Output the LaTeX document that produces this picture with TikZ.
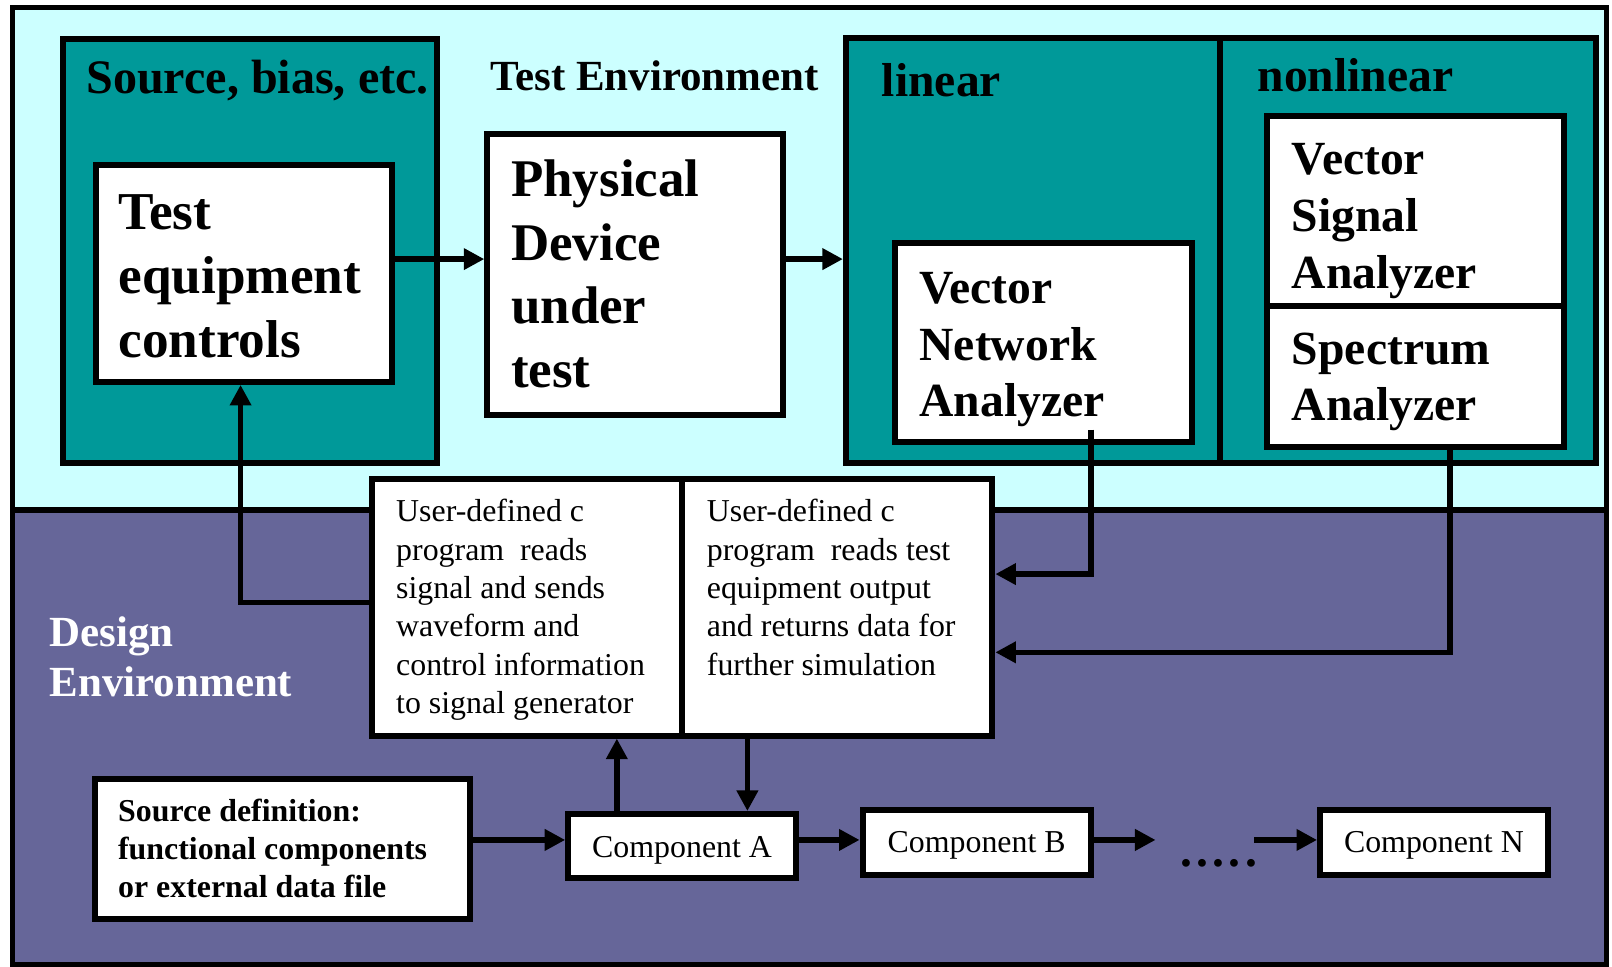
\documentclass[tikz,border=0pt]{standalone}
\usepackage{fontspec}
\setmainfont{Liberation Serif}
\usetikzlibrary{arrows.meta,calc}
\definecolor{cyanbg}{HTML}{CCFFFF}
\definecolor{tealbg}{HTML}{009999}
\definecolor{purplebg}{HTML}{666699}
\newcommand{\txtlines}[1]{\begin{tabular}[t]{@{}l@{}}#1\end{tabular}}
\begin{document}
\begin{tikzpicture}[x=1pt,y=-1pt,
  every node/.style={inner sep=0pt},
  frame/.style={draw=black, line width=5.8pt, rectangle},
  wbox/.style={frame, fill=white},
  tbox/.style={frame, fill=tealbg},
  arr/.style={draw=black, line width=5.4pt, -{Triangle[length=20pt,width=20pt]}},
  bigb/.style={font=\fontsize{51.5}{61.9}\selectfont\bfseries, anchor=base west},
  midb/.style={font=\fontsize{46.3}{55.2}\selectfont\bfseries, anchor=base west},
  labb/.style={font=\fontsize{41.8}{48.6}\selectfont\bfseries, anchor=base west},
  smallr/.style={font=\fontsize{31}{37.3}\selectfont, anchor=base west},
  smallb/.style={font=\fontsize{31}{36.8}\selectfont\bfseries, anchor=base west},
  comp/.style={wbox, font=\fontsize{31}{37}\selectfont, text height=21pt, text depth=0pt}]
\useasboundingbox (0,0) rectangle (1568,940.6);
% backgrounds
\fill[white] (0,0) rectangle (1568,940.6);
\fill[cyanbg] (12,7) rectangle (1563,496);
\fill[purplebg] (12,496) rectangle (1563,938);
\draw[line width=6pt] (12,496) -- (1563,496);
\draw[line width=5pt] (12,7) rectangle (1563,938);
% teal containers
\node[tbox, minimum width=364pt, minimum height=412.5pt] (src) at (243,243.75) {};
\node[tbox, minimum width=364.2pt, minimum height=412.7pt] (lin) at (1004.9,243.65) {};
\node[tbox, minimum width=365pt, minimum height=412.7pt] (nonlin) at (1369.5,243.65) {};
% white boxes
\node[wbox, minimum width=288pt, minimum height=211pt] (TEC) at (237,266) {};
\node[wbox, minimum width=288pt, minimum height=274pt] (PDUT) at (618,267) {};
\node[wbox, minimum width=289pt, minimum height=193.3pt] (VNA) at (1015.1,333.35) {};
\node[wbox, minimum width=288.5pt, minimum height=184.9pt] (VSA) at (1376.75,204.95) {};
\node[wbox, minimum width=288.5pt, minimum height=137.4pt] (SA) at (1376.75,366.1) {};
\node[wbox, minimum width=301.6pt, minimum height=249.5pt] (UL) at (513,590.75) {};
\node[wbox, minimum width=301.5pt, minimum height=249.5pt] (UR) at (814.55,590.75) {};
\node[wbox, minimum width=364.5pt, minimum height=136.2pt] (SD) at (275.05,825.7) {};
\node[comp, minimum width=221.5pt, minimum height=62.6pt] (CA) at (663.45,823.1) {Component A};
\node[comp, minimum width=222pt, minimum height=63.1pt] (CB) at (950,819.15) {Component B};
\node[comp, minimum width=221.5pt, minimum height=63.1pt] (CN) at (1394.75,819.15) {Component N};
% texts
\node[midb, font=\fontsize{46.8}{55.2}\selectfont\bfseries] (tsrc) at (83.7,90.8) {Source, bias, etc.};
\node[labb] (ttest) at (477,88) {Test Environment};
\node[midb] (tlin) at (857.7,94) {linear};
\node[midb] (tnonlin) at (1223,89.2) {nonlinear};
\node[bigb, font=\fontsize{51.8}{61.8}\selectfont\bfseries] (tTEC) at (115,223.7) {\txtlines{Test\\equipment\\controls}};
\node[bigb] (tPDUT) at (497,191.3) {\txtlines{Physical\\Device\\under\\test}};
\node[midb] (tVNA) at (894.3,295) {\txtlines{Vector\\Network\\Analyzer}};
\node[midb] (tVSA) at (1256.5,170.2) {\txtlines{Vector\\Signal\\Analyzer}};
\node[midb, font=\fontsize{46.3}{54.2}\selectfont\bfseries] (tSA) at (1256.5,355) {\txtlines{Spectrum\\Analyzer}};
\node[labb, text=white] (tdesign) at (48,628.4) {\txtlines{Design\\Environment}};
\node[smallr] (tUL) at (385.2,507.5) {\txtlines{User-defined c\\program~~reads\\signal and sends\\waveform and\\control information\\to signal generator}};
\node[smallr] (tUR) at (687.4,507.5) {\txtlines{User-defined c\\program~~reads test\\equipment output\\and returns data for\\further simulation}};
\node[smallb] (tSD) at (114.7,799.3) {\txtlines{Source definition:\\functional components\\or external data file}};
% connectors
\coordinate (yA) at (0,252);
\draw[arr] (TEC.east |- yA) -- (PDUT.west |- yA);
\draw[arr] (PDUT.east |- yA) -- (lin.west |- yA);
\coordinate (cL) at (234,586);
\draw[arr] (UL.west |- cL) -- (cL) -- (cL |- TEC.south);
\coordinate (vS) at (1061,418);
\coordinate (cV) at (1061,558.4);
\draw[arr] (vS) -- (cV) -- (UR.east |- cV);
\coordinate (cS) at (1410.5,634.5);
\draw[arr] (cS |- SA.south) -- (cS) -- (UR.east |- cS);
\coordinate (xU) at (600,0);
\coordinate (xD) at (727,0);
\draw[arr] (CA.north -| xU) -- (UL.south -| xU);
\draw[arr] (UR.south -| xD) -- (CA.north -| xD);
\coordinate (yB) at (0,817);
\draw[arr] (SD.east |- yB) -- (CA.west |- yB);
\draw[arr] (CA.east |- yB) -- (CB.west |- yB);
\coordinate (eB) at (1124,817);
\draw[arr] (CB.east |- yB) -- (eB);
\coordinate (sN) at (1220,817);
\draw[arr] (sN) -- (CN.west |- yB);
\node[midb] (dots) at (1147.7,842.4) {.\kern4.25pt.\kern4.25pt.\kern4.25pt.\kern4.25pt.};
\end{tikzpicture}
\end{document}
